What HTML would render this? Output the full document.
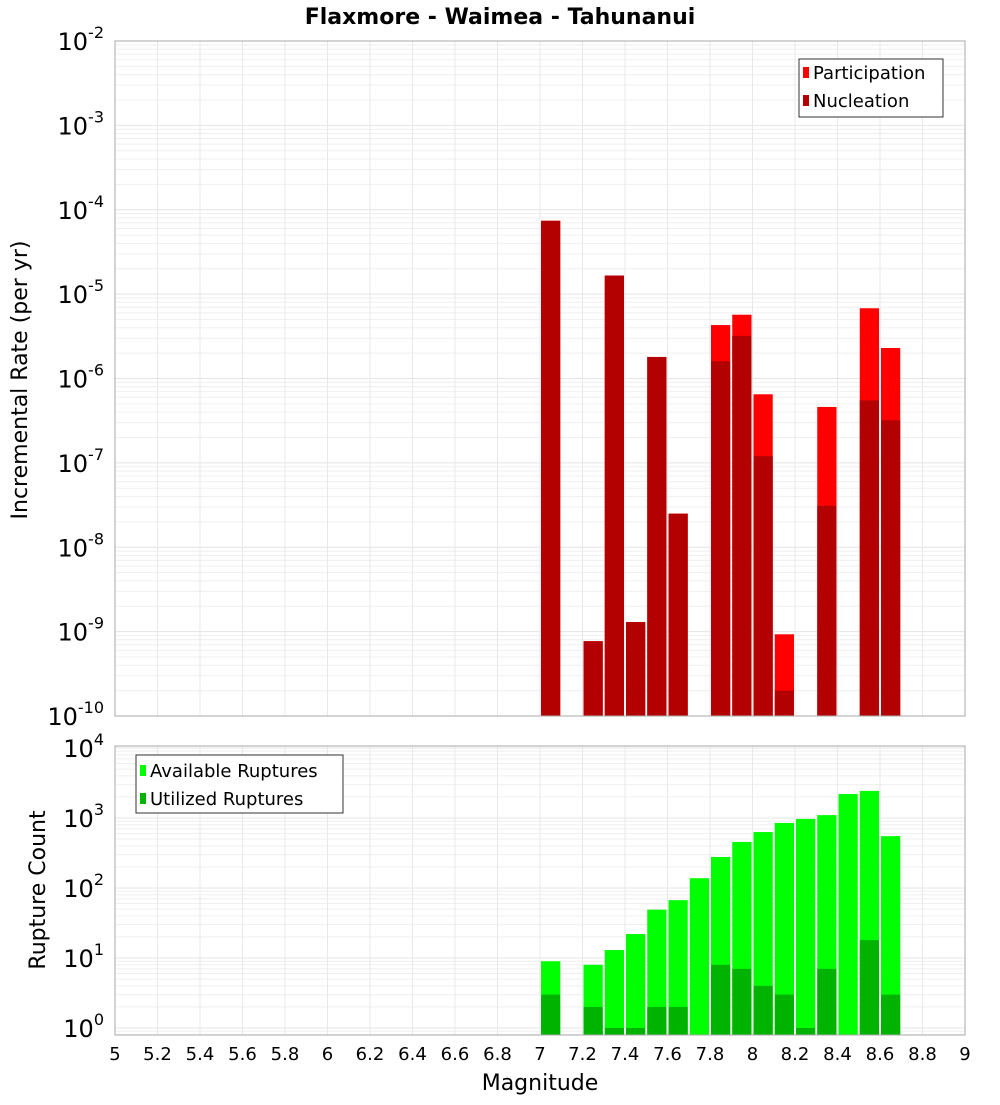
<!DOCTYPE html>
<html><head><meta charset="utf-8"><style>
body{margin:0;background:#fff;}
svg{font-family:"DejaVu Sans","Liberation Sans",sans-serif;}
</style></head><body>
<svg id="c" width="1000" height="1100"></svg>
<script>
const bins=[7.05,7.15,7.25,7.35,7.45,7.55,7.65,7.75,7.85,7.95,8.05,8.15,8.25,8.35,8.45,8.55,8.65];
const participation=[7.4e-5,0,7.7e-10,1.66e-5,1.3e-9,1.8e-6,2.5e-8,0,4.3e-6,5.7e-6,6.5e-7,9.3e-10,0,4.6e-7,0,6.8e-6,2.3e-6];
const nucleation=[7.4e-5,0,7.7e-10,1.66e-5,1.3e-9,1.8e-6,2.5e-8,0,1.6e-6,3.2e-6,1.2e-7,2.0e-10,0,3.1e-8,0,5.5e-7,3.2e-7];
const available=[9,0,8,13,22,49,67,138,277,455,630,850,970,1100,2200,2440,550];
const utilized=[3,0,2,1,1,2,2,0,8,7,4,3,1,7,0,18,3];
const xTicks=[5,5.2,5.4,5.6,5.8,6,6.2,6.4,6.6,6.8,7,7.2,7.4,7.6,7.8,8,8.2,8.4,8.6,8.8,9];
const topExps=[-2,-3,-4,-5,-6,-7,-8,-9,-10];
const botExps=[4,3,2,1,0];
const NS="http://www.w3.org/2000/svg",svg=document.getElementById('c');
function mk(t,a,p){const e=document.createElementNS(NS,t);for(const k in a)e.setAttribute(k,a[k]);(p||svg).appendChild(e);return e;}
const L=115,R=965;
const X=m=>L+(m-5)/4*(R-L);
const T0=41,T1=716;
const YT=v=>T0+(-2-Math.log10(v))/8*(T1-T0);
const B0=746,B1=1035;
const YB=v=>1028-70*Math.log10(v);
function grid(y0,y1,emin,emax,Y,name){
  const g=mk('g',{});
  for(let e=emin;e<emax;e++)for(let k=1;k<10;k++){const y=Y(k*Math.pow(10,e));if(y>=y0&&y<=y1)mk('line',{x1:L,x2:R,y1:y,y2:y,stroke:k==1?'#e4e4e4':'#efefef','stroke-width':1},g);}
  xTicks.forEach(t=>{const x=X(t);mk('line',{x1:x,x2:x,y1:y0,y2:y1,stroke:'#e8e8e8'},g);});
}
function frame(y0,y1,name){const r=mk('rect',{x:L,y:y0,width:R-L,height:y1-y0,fill:'none',stroke:'#aaa'});}
function ylab(exps,Y,name){exps.forEach(e=>{const y=Y(Math.pow(10,e));const t=mk('text',{x:104,y:y+9,'text-anchor':'end','font-size':24});t.textContent='10';const s=mk('tspan',{dy:-12,'font-size':16},t);s.textContent=String(e);});}
// top panel
grid(T0,T1,-10,-2,YT,'top-grid');
const bw=X(5.1)-X(5)-2;
bins.forEach((m,i)=>{if(participation[i]>0){const y=YT(participation[i]);const r=mk('rect',{x:X(m)-bw/2,y:y,width:bw,height:T1-y,fill:'#ff0000'});}});
bins.forEach((m,i)=>{if(nucleation[i]>0){const y=YT(nucleation[i]);const r=mk('rect',{x:X(m)-bw/2,y:y,width:bw,height:T1-y,fill:'#b30000'});}});
frame(T0,T1,'top-plot-frame');
ylab(topExps,YT,'top-y-tick');
// bottom panel
grid(B0,B1,-1,5,YB,'bottom-grid');
bins.forEach((m,i)=>{if(available[i]>0){const y=YB(available[i]);const r=mk('rect',{x:X(m)-bw/2,y:y,width:bw,height:B1-y,fill:'#00ff00'});}});
bins.forEach((m,i)=>{if(utilized[i]>0){const y=YB(utilized[i]);const r=mk('rect',{x:X(m)-bw/2,y:y,width:bw,height:B1-y,fill:'#00b300'});}});
frame(B0,B1,'bottom-plot-frame');
ylab(botExps,YB,'bottom-y-tick');
xTicks.forEach(t=>{const e=mk('text',{x:X(t),y:1060,'text-anchor':'middle','font-size':18});e.textContent=String(t);});
</script>
<svg style="position:absolute;left:0;top:0" width="1000" height="1100">
<text x="500" y="24" text-anchor="middle" font-size="22" font-weight="bold">Flaxmore - Waimea - Tahunanui</text>
<text x="540" y="1090" text-anchor="middle" font-size="22">Magnitude</text>
<text transform="translate(27,380) rotate(-90)" text-anchor="middle" font-size="22">Incremental Rate (per yr)</text>
<text transform="translate(45,890) rotate(-90)" text-anchor="middle" font-size="22">Rupture Count</text>
<g>
<rect x="799" y="59" width="144" height="58" fill="#fff" stroke="#333"/>
<rect x="803" y="67" width="6" height="11" fill="#ff0000"/>
<text x="813" y="79" font-size="18">Participation</text>
<rect x="803" y="95" width="6" height="11" fill="#b30000"/>
<text x="813" y="107" font-size="18">Nucleation</text>
</g>
<g>
<rect x="136" y="755" width="207" height="58" fill="#fff" stroke="#333"/>
<rect x="140" y="765" width="6" height="11" fill="#00ff00"/>
<text x="150" y="777" font-size="18">Available Ruptures</text>
<rect x="140" y="793" width="6" height="11" fill="#00b300"/>
<text x="150" y="805" font-size="18">Utilized Ruptures</text>
</g>
</svg>
</body></html>
